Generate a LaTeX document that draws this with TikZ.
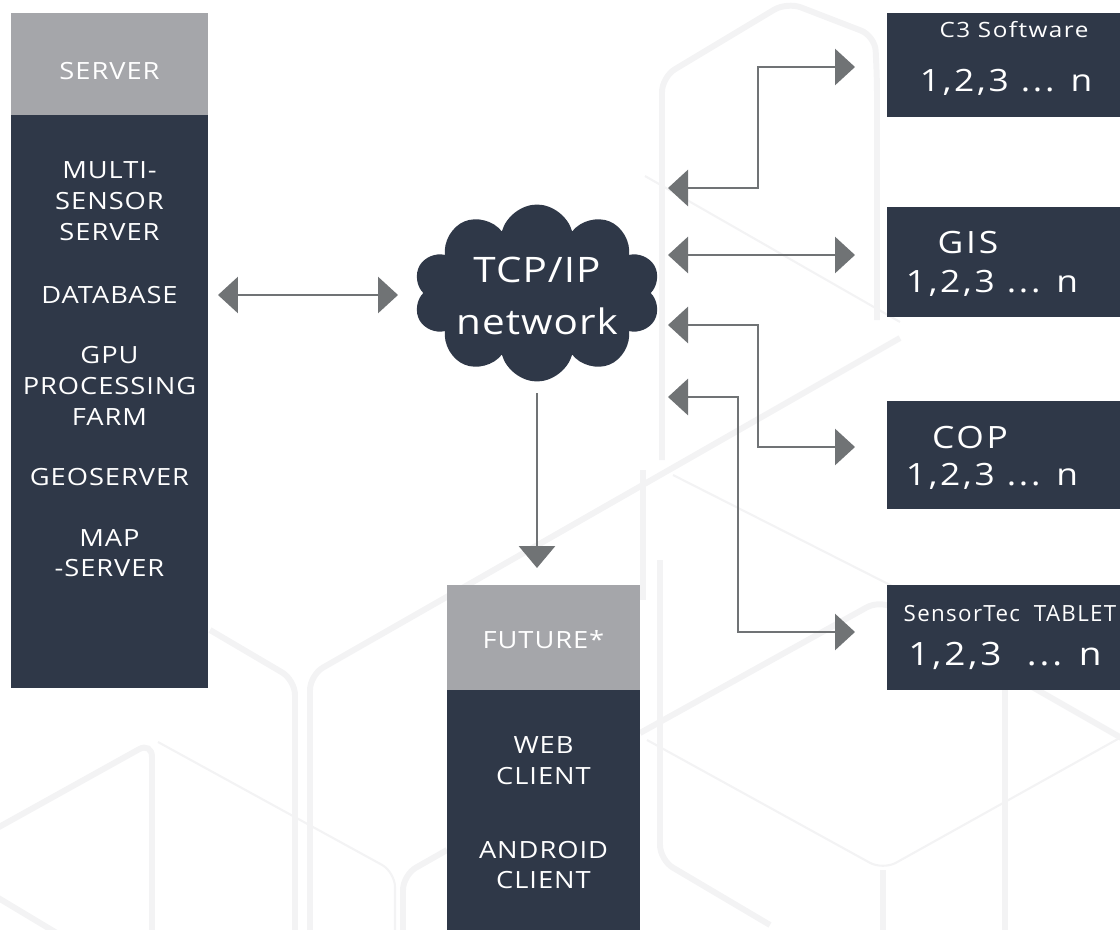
\documentclass[tikz,border=0pt]{standalone}
\usepackage{fontspec}
\setmainfont{Open Sans}
\newfontfamily\boxfont{Open Sans}[FakeStretch=1.15, LetterSpace=4]
\newfontfamily\countfont{Open Sans}[FakeStretch=1.15, LetterSpace=9]
\newfontfamily\titlefont{Open Sans}[FakeStretch=1.15, LetterSpace=7]
\newfontfamily\cloudfont{Open Sans}[FakeStretch=1.15, LetterSpace=3]
\newfontfamily\tagfont{Open Sans}[LetterSpace=6]
\usetikzlibrary{shapes.symbols,arrows.meta,positioning}

\definecolor{navy}{HTML}{2F3848}
\definecolor{headgray}{HTML}{A5A6AA}
\definecolor{arrowgray}{HTML}{707375}
\definecolor{hexline}{HTML}{F3F3F4}

\tikzset{
  darkBox/.style={rectangle, fill=navy, anchor=north west, inner sep=0pt},
  headBox/.style={rectangle, fill=headgray, anchor=north west, inner sep=0pt},
  boxText/.style={text=white, align=center, inner sep=0pt, font=\boxfont\fontsize{13.5}{17.5}\selectfont},
  countText/.style={text=white, inner sep=0pt, font=\countfont\fontsize{17.5}{21}\selectfont},
  link/.style={draw=arrowgray, line width=1.7pt, {Triangle[length=0.4cm,width=0.72cm]}-{Triangle[length=0.4cm,width=0.72cm]}},
  flow/.style={draw=arrowgray, line width=1.7pt, -{Triangle[length=0.44cm,width=0.72cm]}},
  bgHex/.style={draw=hexline, line width=3.4pt, rounded corners=0.3cm},
  bgThin/.style={draw=hexline, line width=1.2pt, rounded corners=0.3cm}
}

\begin{document}
\begin{tikzpicture}[x=0.02cm, y=-0.02cm]
\useasboundingbox (0,0) rectangle (1120,930);

% faint hexagon pattern behind everything
\draw[bgHex] (210,630) -- (295,680) -- (295,940);
\draw[bgHex] (900,338) -- (310,675) -- (310,940);
\draw[bgHex] (-10,832) -- (152,742) -- (152,940);
\draw[bgThin] (158,742) -- (395,872) -- (395,940);
\draw[bgHex] (447,850) -- (403,875) -- (403,940);
\draw[bgHex] (-10,893) -- (60,935);
\draw[bgHex] (660,560) -- (660,860) -- (770,925);
\draw[bgHex] (640,733) -- (880,600) -- (1125,740);
\draw[bgThin] (647,740) -- (883,870) -- (1125,735);
\draw[bgHex] (883,870) -- (883,940);
\draw[bgHex] (1005,690) -- (1005,940);
\draw[bgHex] (662,460) -- (662,77) -- (787,2) -- (875,36) -- (877,80) -- (877,320);
\draw[bgThin] (645,176) -- (900,322);
\draw[bgHex] (643,600) -- (643,470);
\draw[bgThin] (673,475) -- (900,590);

% server column
\node[headBox, minimum width=3.94cm, minimum height=2.04cm](serverHead) at (11,13){};
\node[darkBox, minimum width=3.94cm, minimum height=11.46cm](serverBody) at (11,115){};
\node[boxText](serverLabel) at (109.5,71){SERVER};
\node[boxText](multiLabel) at (109.5,201){MULTI-\\SENSOR\\SERVER};
\node[boxText](dbLabel) at (109.5,295){DATABASE};
\node[boxText](gpuLabel) at (109.5,386){GPU\\PROCESSING\\FARM};
\node[boxText](geoLabel) at (109.5,477){GEOSERVER};
\node[boxText](mapLabel) at (109.5,553){MAP\\-SERVER};

% network cloud
\node[cloud, cloud puffs=10, aspect=1.4, fill=navy, inner sep=0pt,
      minimum width=4.94cm, minimum height=3.54cm](tcpCloud) at (537,293){};
\node[text=white, align=center, inner sep=0pt,
      font=\cloudfont\fontsize{20}{29.5}\selectfont](tcpLabel) at (537,296){TCP/IP\\network};

% future clients
\node[headBox, minimum width=3.86cm, minimum height=2.1cm](futureHead) at (447,585){};
\node[darkBox, minimum width=3.86cm, minimum height=4.9cm](futureBody) at (447,690){};
\node[boxText](futureLabel) at (543.5,640){FUTURE*};
\node[boxText](webLabel) at (543.5,761){WEB\\CLIENT};
\node[boxText](androidLabel) at (543.5,865){ANDROID\\CLIENT};

% client boxes on the right
\node[darkBox, minimum width=4.66cm, minimum height=2.08cm](c3Box) at (887,13){};
\node[text=white, inner sep=0pt, font=\titlefont\fontsize{12}{14}\selectfont](c3Label) at (1014,30){C3 Software};
\node[countText](c3Count) at (1006,82){1,2,3 ... n};

\node[darkBox, minimum width=4.66cm, minimum height=2.2cm](gisBox) at (887,207){};
\node[countText](gisLabel) at (968,243){GIS};
\node[countText](gisCount) at (992,283){1,2,3 ... n};

\node[darkBox, minimum width=4.66cm, minimum height=2.16cm](copBox) at (887,401){};
\node[countText](copLabel) at (970,437){COP};
\node[countText](copCount) at (992,476){1,2,3 ... n};

\node[darkBox, minimum width=4.66cm, minimum height=2.1cm](tabBox) at (887,585){};
\node[text=white, inner sep=0pt, font=\tagfont\fontsize{12.7}{15}\selectfont](tabLabel) at (1010,614){SensorTec\hspace{0.3em} TABLET};
\node[countText, font=\countfont\fontsize{18.3}{22}\selectfont](tabCount) at (1005,656){1,2,3\hspace{0.4em} ... n};

% connectors
\coordinate(serverOut) at (218,295);
\coordinate(cloudIn) at (398,295);
\draw[link] (serverOut) -- (cloudIn);

\coordinate(cloudOut) at (537,393);
\coordinate(futureIn) at (537,568);
\draw[flow] (cloudOut) -- (futureIn);

\coordinate(c3Back) at (668,188);
\coordinate(c3In) at (855,67);
\draw[link] (c3Back) -- ++(90,0) |- (c3In);

\coordinate(gisBack) at (668,255);
\coordinate(gisIn) at (855,255);
\draw[link] (gisBack) -- (gisIn);

\coordinate(copBack) at (668,325);
\coordinate(copIn) at (855,447);
\draw[link] (copBack) -- ++(90,0) |- (copIn);

\coordinate(tabBack) at (668,397);
\coordinate(tabIn) at (855,632);
\draw[link] (tabBack) -- ++(70,0) |- (tabIn);
\end{tikzpicture}
\end{document}
